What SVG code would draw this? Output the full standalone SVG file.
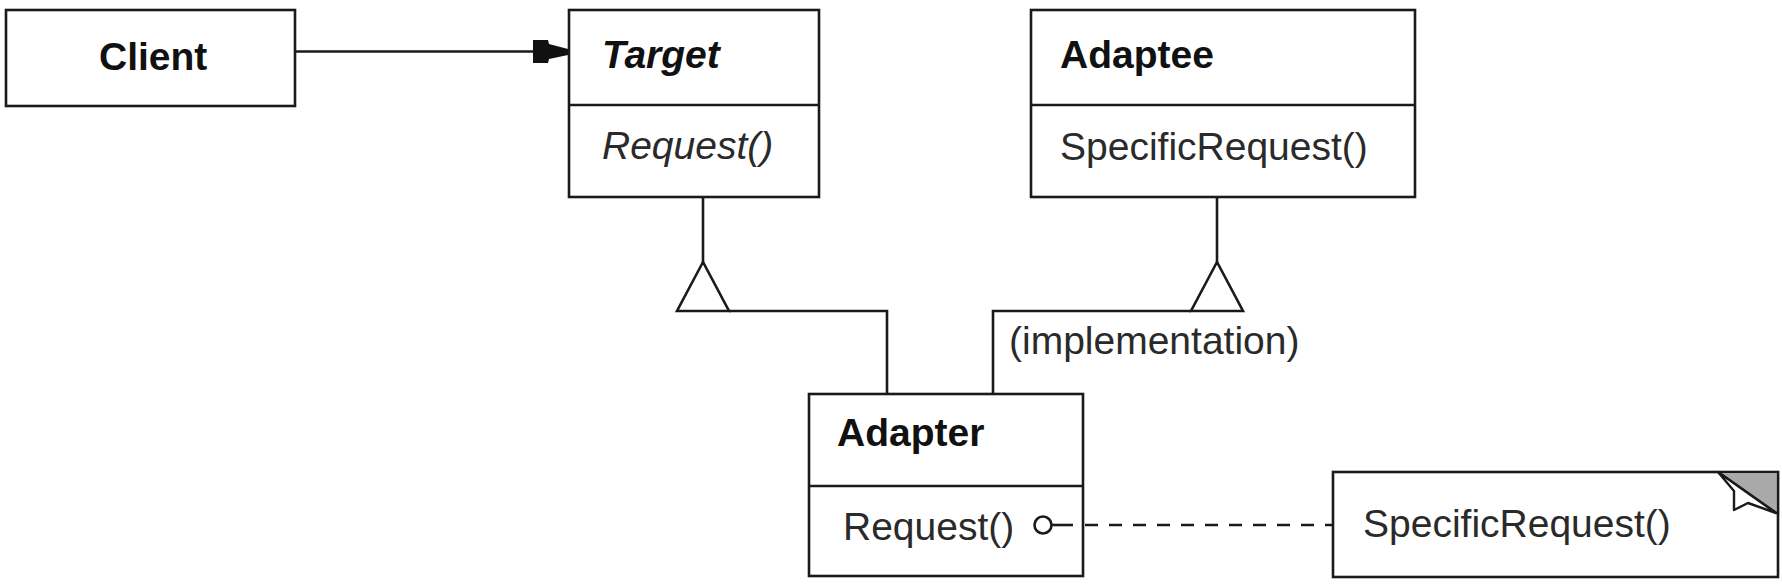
<svg xmlns="http://www.w3.org/2000/svg" width="1782" height="584" viewBox="0 0 1782 584">
<style>
.box{fill:#fff;stroke:#1a1a1a;stroke-width:2.6}
.ln{fill:none;stroke:#1a1a1a;stroke-width:2.6}
.t{font-family:"Liberation Sans",Arial,sans-serif;font-size:39px;fill:#2a2a2a}
.b{font-weight:bold;fill:#111}
.i{font-style:italic}
</style>
<rect width="1782" height="584" fill="#fff"/>
<g id="client">
  <rect class="box" x="6" y="10" width="289" height="96"/>
  <text class="t b" x="99" y="70">Client</text>
</g>
<g id="target">
  <rect class="box" x="569" y="10" width="250" height="187"/>
  <line class="ln" x1="569" y1="105" x2="819" y2="105"/>
  <text class="t b i" x="602" y="68">Target</text>
  <text class="t i" x="602" y="159">Request()</text>
</g>
<g id="adaptee">
  <rect class="box" x="1031" y="10" width="384" height="187"/>
  <line class="ln" x1="1031" y1="105" x2="1415" y2="105"/>
  <text class="t b" x="1060" y="68">Adaptee</text>
  <text class="t" x="1060" y="160">SpecificRequest()</text>
</g>
<g id="adapter">
  <rect class="box" x="809" y="394" width="274" height="182"/>
  <line class="ln" x1="809" y1="486" x2="1083" y2="486"/>
  <text class="t b" x="837" y="446">Adapter</text>
  <text class="t" x="843" y="540">Request()</text>
</g>
<g id="note">
  <rect class="box" x="1333" y="472" width="445" height="105"/>
  <polygon points="1718,472 1778,472 1778,514" fill="#a9a9a9" stroke="#1a1a1a" stroke-width="2.2"/>
  <polygon points="1718,472 1734,491 1734,510 1748,503 1776,513" fill="#fff" stroke="#1a1a1a" stroke-width="2.4" stroke-linejoin="round"/>
  <text class="t" x="1363" y="537">SpecificRequest()</text>
</g>
<g id="connectors">
  <line class="ln" x1="296" y1="51.5" x2="540" y2="51.5"/>
  <polygon points="533,40 548,40 549,44 568,49 568,55 549,59 548,63 533,63" fill="#111"/>
  <polyline class="ln" points="703,197 703,262"/>
  <polygon class="ln" points="703,262 677,311 729,311"/>
  <polyline class="ln" points="729,311 887,311 887,394"/>
  <polyline class="ln" points="1217,197 1217,262"/>
  <polygon class="ln" points="1217,262 1191,311 1243,311"/>
  <polyline class="ln" points="1191,311 993,311 993,394"/>
  <text class="t" x="1009" y="354">(implementation)</text>
  <circle cx="1043" cy="525" r="8.5" fill="#fff" stroke="#1a1a1a" stroke-width="2.6"/>
  <line class="ln" x1="1052" y1="525" x2="1073" y2="525"/>
  <line class="ln" x1="1085" y1="525" x2="1333" y2="525" stroke-dasharray="13 11"/>
</g>
</svg>
